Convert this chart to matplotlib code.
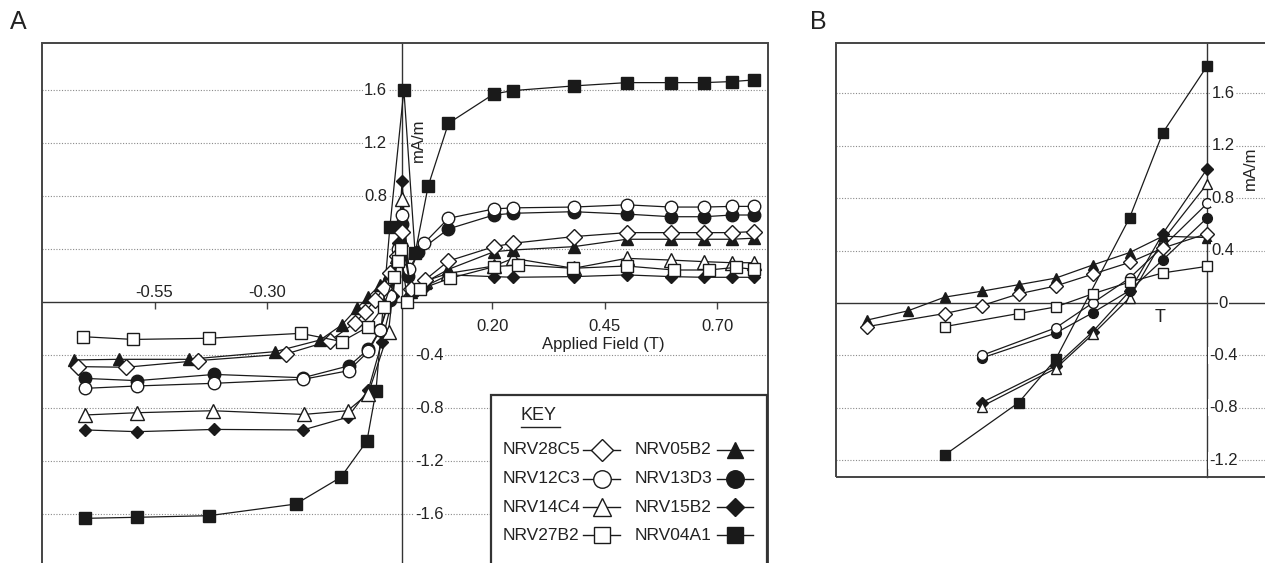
import matplotlib.pyplot as plt
from matplotlib.lines import Line2D
from matplotlib.patches import Rectangle

plt.rcParams['font.family'] = ['Liberation Sans', 'DejaVu Sans']

W, H = 1265, 563

# ---- panel A: full loops, applied field (T) vs mA/m ----
a_28c5_x = [-0.719, -0.613, -0.454, -0.258, -0.161, -0.104, -0.082, -0.06, -0.041, -0.027, -0.012, 0.0,
            0.02, 0.051, 0.103, 0.204, 0.247, 0.381, 0.499, 0.597, 0.671, 0.733, 0.781]
a_28c5_y = [-0.484, -0.489, -0.439, -0.389, -0.29, -0.152, -0.07, 0.018, 0.107, 0.22, 0.35, 0.53,
            0.1, 0.17, 0.313, 0.421, 0.447, 0.497, 0.527, 0.527, 0.527, 0.527, 0.535]

a_05b2_x = [-0.73, -0.63, -0.474, -0.282, -0.182, -0.134, -0.1, -0.075, -0.049, -0.03, -0.012, 0.0,
            0.02, 0.05, 0.103, 0.204, 0.247, 0.381, 0.499, 0.597, 0.671, 0.733, 0.781]
a_05b2_y = [-0.434, -0.429, -0.429, -0.371, -0.283, -0.17, -0.044, 0.044, 0.132, 0.22, 0.33, 0.47,
            0.08, 0.15, 0.25, 0.383, 0.396, 0.421, 0.477, 0.477, 0.477, 0.477, 0.485]

a_12c3_x = [-0.704, -0.588, -0.417, -0.22, -0.119, -0.075, -0.049, -0.027, -0.01, 0.0,
            0.015, 0.049, 0.103, 0.204, 0.247, 0.381, 0.499, 0.597, 0.671, 0.733, 0.781]
a_12c3_y = [-0.648, -0.63, -0.61, -0.58, -0.515, -0.37, -0.21, 0.05, 0.4, 0.66,
            0.25, 0.447, 0.635, 0.706, 0.714, 0.72, 0.737, 0.72, 0.72, 0.725, 0.725]

a_13d3_x = [-0.704, -0.589, -0.417, -0.22, -0.117, -0.075, -0.049, -0.027, -0.01, 0.0,
            0.014, 0.036, 0.103, 0.204, 0.247, 0.381, 0.499, 0.597, 0.671, 0.733, 0.781]
a_13d3_y = [-0.573, -0.59, -0.543, -0.568, -0.477, -0.353, -0.207, 0.02, 0.35, 0.59,
            0.2, 0.383, 0.555, 0.66, 0.673, 0.685, 0.667, 0.647, 0.647, 0.66, 0.66]

a_14c4_x = [-0.704, -0.589, -0.421, -0.219, -0.121, -0.075, -0.03, -0.012, 0.0,
            0.02, 0.05, 0.103, 0.204, 0.247, 0.381, 0.499, 0.597, 0.671, 0.733, 0.781]
a_14c4_y = [-0.849, -0.832, -0.817, -0.845, -0.817, -0.687, -0.22, 0.35, 0.78,
            0.1, 0.16, 0.22, 0.275, 0.333, 0.258, 0.333, 0.32, 0.308, 0.30, 0.30]

a_15b2_x = [-0.704, -0.589, -0.417, -0.22, -0.121, -0.075, -0.045, -0.02, -0.008, 0.0,
            0.015, 0.05, 0.103, 0.204, 0.247, 0.381, 0.499, 0.597, 0.671, 0.733, 0.781]
a_15b2_y = [-0.962, -0.975, -0.958, -0.962, -0.866, -0.66, -0.3, 0.05, 0.45, 0.92,
            0.05, 0.12, 0.208, 0.195, 0.19, 0.195, 0.208, 0.195, 0.19, 0.19, 0.19]

a_27b2_x = [-0.71, -0.597, -0.429, -0.225, -0.134, -0.075, -0.041, -0.019, -0.008, -0.003,
            0.012, 0.04, 0.107, 0.204, 0.258, 0.379, 0.499, 0.604, 0.681, 0.742, 0.781]
a_27b2_y = [-0.258, -0.279, -0.27, -0.233, -0.295, -0.183, -0.031, 0.195, 0.31, 0.40,
            0.006, 0.1, 0.183, 0.27, 0.283, 0.258, 0.275, 0.245, 0.245, 0.265, 0.25]

a_04a1_x = [-0.704, -0.588, -0.429, -0.236, -0.136, -0.078, -0.058, -0.027, 0.004,
            0.029, 0.058, 0.103, 0.204, 0.247, 0.381, 0.499, 0.597, 0.671, 0.733, 0.781]
a_04a1_y = [-1.629, -1.621, -1.609, -1.521, -1.319, -1.045, -0.668, 0.572, 1.604,
            0.371, 0.879, 1.352, 1.574, 1.599, 1.634, 1.659, 1.659, 1.659, 1.667, 1.679]

a_xticks = [-0.55, -0.30, 0.20, 0.45, 0.70]
a_ylabels_pos = [1.6, 1.2, 0.8]
a_ylabels_neg = [-0.4, -0.8, -1.2, -1.6]
a_grid = [-1.6, -1.2, -0.8, -0.4, 0.4, 0.8, 1.2, 1.6]

# ---- panel B: low-field part of the descending branch ----
b_28c5_x = [-0.092, -0.071, -0.061, -0.051, -0.041, -0.031, -0.021, -0.012, 0.0]
b_28c5_y = [-0.18, -0.08, -0.02, 0.07, 0.13, 0.22, 0.31, 0.42, 0.53]
b_05b2_x = [-0.092, -0.081, -0.071, -0.061, -0.051, -0.041, -0.031, -0.021, -0.012, 0.0]
b_05b2_y = [-0.13, -0.06, 0.045, 0.09, 0.14, 0.19, 0.29, 0.385, 0.51, 0.50]
b_27b2_x = [-0.071, -0.051, -0.041, -0.031, -0.021, -0.012, 0.0]
b_27b2_y = [-0.18, -0.08, -0.03, 0.07, 0.16, 0.23, 0.28]
b_12c3_x = [-0.061, -0.041, -0.031, -0.021, -0.012, 0.0]
b_12c3_y = [-0.40, -0.19, 0.0, 0.19, 0.43, 0.76]
b_13d3_x = [-0.061, -0.041, -0.031, -0.021, -0.012, 0.0]
b_13d3_y = [-0.42, -0.23, -0.075, 0.095, 0.33, 0.65]
b_04a1_x = [-0.071, -0.051, -0.041, -0.021, -0.012, 0.0]
b_04a1_y = [-1.16, -0.76, -0.43, 0.65, 1.30, 1.81]
b_15b2_x = [-0.061, -0.041, -0.031, -0.021, -0.012, 0.0]
b_15b2_y = [-0.76, -0.48, -0.22, 0.09, 0.53, 1.025]
b_14c4_x = [-0.061, -0.041, -0.031, -0.021, -0.012, 0.0]
b_14c4_y = [-0.79, -0.50, -0.24, 0.04, 0.48, 0.91]

b_ylabels = [1.6, 1.2, 0.8, 0.4, 0, -0.4, -0.8, -1.2]
b_grid = [-1.2, -0.8, -0.4, 0.4, 0.8, 1.2, 1.6]

# name -> (marker, filled, size in A)
STYLES = {
    "NRV28C5": ("D", False, 8.0),
    "NRV05B2": ("^", True, 8.5),
    "NRV12C3": ("o", False, 9.0),
    "NRV13D3": ("o", True, 9.0),
    "NRV14C4": ("^", False, 9.5),
    "NRV15B2": ("D", True, 6.5),
    "NRV27B2": ("s", False, 8.5),
    "NRV04A1": ("s", True, 8.0),
}

LEFT_KEY = ["NRV28C5", "NRV12C3", "NRV14C4", "NRV27B2"]
RIGHT_KEY = ["NRV05B2", "NRV13D3", "NRV15B2", "NRV04A1"]

INK = "#1a1a1a"
TXT = "#222222"


def fx(px):
    return px / W


def fy(py):
    return 1 - py / H


def draw(ax, x, y, name, scale=1.0):
    marker, filled, ms = STYLES[name]
    ax.plot(x, y, color=INK, lw=0.9, marker=marker, ms=ms * scale,
            mfc=INK if filled else "white", mec=INK, mew=1.0, zorder=3)


def setup_axes(ax, grid):
    ax.spines["left"].set_position(("data", 0))
    ax.spines["bottom"].set_position(("data", 0))
    ax.spines["top"].set_visible(False)
    ax.spines["right"].set_visible(False)
    for s in ["left", "bottom"]:
        ax.spines[s].set_color("#333333")
        ax.spines[s].set_linewidth(1.0)
        ax.spines[s].set_zorder(2)
    ax.set_yticks(grid)
    ax.set_yticklabels([])
    ax.tick_params(axis="y", length=0)
    ax.yaxis.grid(True, ls=(0, (1, 1.5)), lw=0.8, color="#8a8a8a")
    ax.set_axisbelow(True)
    ax.add_patch(Rectangle((0, 0), 1, 1, transform=ax.transAxes, fill=False,
                           lw=1.4, ec="#444444", clip_on=False, zorder=5))


fig = plt.figure(figsize=(W / 100, H / 100), dpi=100)

# panel A
a_top, a_bot = 43, 567.5
axA = fig.add_axes([fx(42), fy(a_bot), (768 - 42) / W, (a_bot - a_top) / H])
axA.set_xlim(-0.80, 0.813)
axA.set_ylim(-2.0, 1.958)
setup_axes(axA, a_grid)
axA.set_xticks(a_xticks)
axA.set_xticklabels([])
axA.tick_params(axis="x", direction="out", length=5, width=1.0, color="#444444")

draw(axA, a_04a1_x, a_04a1_y, "NRV04A1")
draw(axA, a_15b2_x, a_15b2_y, "NRV15B2")
draw(axA, a_14c4_x, a_14c4_y, "NRV14C4")
draw(axA, a_13d3_x, a_13d3_y, "NRV13D3")
draw(axA, a_12c3_x, a_12c3_y, "NRV12C3")
draw(axA, a_05b2_x, a_05b2_y, "NRV05B2")
draw(axA, a_28c5_x, a_28c5_y, "NRV28C5")
draw(axA, a_27b2_x, a_27b2_y, "NRV27B2")

for v in a_xticks:
    if v < 0:
        axA.annotate(f"{v:.2f}", (v, 0), xytext=(0, 10), textcoords="offset pixels",
                     ha="center", va="center", fontsize=12, color=TXT)
    else:
        axA.annotate(f"{v:.2f}", (v, 0), xytext=(0, -24), textcoords="offset pixels",
                     ha="center", va="center", fontsize=12, color=TXT)
for v in a_ylabels_pos:
    axA.annotate(f"{v:.1f}", (0, v), xytext=(-15, 0), textcoords="offset pixels",
                 ha="right", va="center", fontsize=12, color=TXT, zorder=4,
                 bbox=dict(boxstyle="square,pad=0.05", fc="white", ec="none"))
for v in a_ylabels_neg:
    axA.annotate(f"{v:.1f}", (0, v), xytext=(13, 0), textcoords="offset pixels",
                 ha="left", va="center", fontsize=12, color=TXT, zorder=4,
                 bbox=dict(boxstyle="square,pad=0.05", fc="white", ec="none"))

fig.text(fx(418), fy(140), "mA/m", rotation=90, ha="center", va="center", fontsize=12, color=TXT)
fig.text(fx(603), fy(345), "Applied Field (T)", ha="center", va="center", fontsize=12, color=TXT)

# key box
fig.patches.append(Rectangle((fx(491), fy(600)), (767 - 491) / W, (600 - 395) / H,
                             transform=fig.transFigure, fc="white", ec="#333333", lw=1.6,
                             zorder=10))
fig.text(fx(521), fy(416), "KEY", ha="left", va="center", fontsize=13, color=TXT, zorder=11)
fig.lines.append(Line2D([fx(521), fx(560)], [fy(427), fy(427)], transform=fig.transFigure,
                        color=TXT, lw=1.0, zorder=11))
rows = [450, 478.5, 507, 535]
for i in range(4):
    y = fy(rows[i])
    for name, tx, seg, mx in [(LEFT_KEY[i], 503, (583, 620), 601.5),
                              (RIGHT_KEY[i], 635, (717, 753), 735)]:
        marker, filled, ms = STYLES[name]
        fig.text(fx(tx), y, name, ha="left", va="center", fontsize=12.5, color=TXT, zorder=11)
        fig.lines.append(Line2D([fx(seg[0]), fx(seg[1])], [y, y], transform=fig.transFigure,
                                color=INK, lw=1.0, zorder=11))
        fig.lines.append(Line2D([fx(mx)], [y], transform=fig.transFigure, ls="none",
                                marker=marker, ms=ms * 1.4, mfc=INK if filled else "white",
                                mec=INK, mew=1.0, zorder=12))

# panel B
b_top, b_bot = 43, 477
axB = fig.add_axes([fx(836), fy(b_bot), (1290 - 836) / W, (b_bot - b_top) / H])
axB.set_xlim(-0.1004, 0.0224)
axB.set_ylim(-1.328, 1.985)
setup_axes(axB, b_grid)
axB.set_xticks([])

draw(axB, b_04a1_x, b_04a1_y, "NRV04A1", 0.82)
draw(axB, b_15b2_x, b_15b2_y, "NRV15B2", 0.9)
draw(axB, b_14c4_x, b_14c4_y, "NRV14C4", 0.78)
draw(axB, b_13d3_x, b_13d3_y, "NRV13D3", 0.78)
draw(axB, b_12c3_x, b_12c3_y, "NRV12C3", 0.78)
draw(axB, b_05b2_x, b_05b2_y, "NRV05B2", 0.8)
draw(axB, b_28c5_x, b_28c5_y, "NRV28C5", 0.95)
draw(axB, b_27b2_x, b_27b2_y, "NRV27B2", 0.82)

for v in b_ylabels:
    lab = "0" if v == 0 else f"{v:.1f}"
    axB.annotate(lab, (0, v), xytext=(16, 0), textcoords="offset pixels",
                 ha="center", va="center", fontsize=12, color=TXT, zorder=4,
                 bbox=dict(boxstyle="square,pad=0.05", fc="white", ec="none"))

fig.text(fx(1250), fy(168), "mA/m", rotation=90, ha="center", va="center", fontsize=12, color=TXT)
fig.text(fx(1160), fy(317), "T", ha="center", va="center", fontsize=13, color=TXT)

fig.text(fx(18), fy(22), "A", ha="center", va="center", fontsize=18, color=TXT)
fig.text(fx(818), fy(22), "B", ha="center", va="center", fontsize=18, color=TXT)

fig.savefig("out.png", dpi=100)
